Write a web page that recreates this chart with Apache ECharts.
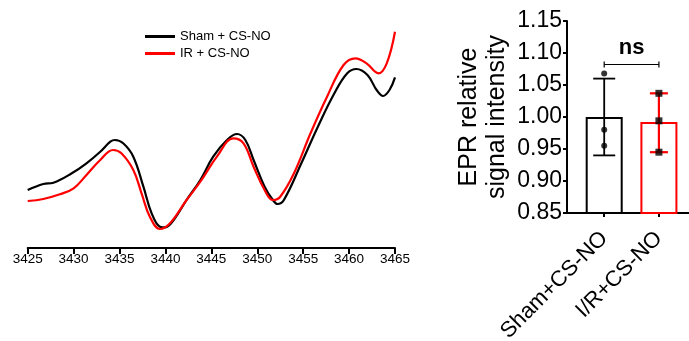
<!DOCTYPE html>
<html>
<head>
<meta charset="utf-8">
<script src="https://cdn.jsdelivr.net/npm/echarts@6/dist/echarts.min.js"></script>
<style>
  html, body { margin: 0; padding: 0; background: #fff; }
  #chart { width: 689px; height: 341px; }
</style>
</head>
<body>
<div id="chart"></div>
<script>
// EPR spectra (field in G, signal in arbitrary units)
const shamField = [3425, 3426.7, 3427.8, 3429.8, 3431.4, 3432.9, 3434.0, 3434.5, 3435.4, 3436.5, 3437.6, 3438.5, 3439.4, 3440.0, 3440.9, 3442.3, 3443.8, 3445.2, 3446.7, 3447.8, 3448.7, 3449.6, 3450.8, 3451.7, 3452.2, 3452.9, 3454.8, 3456.6, 3458.4, 3459.8, 3460.8, 3462.0, 3463.0, 3463.7, 3464.4, 3465];
const shamSignal = [58, 64, 65.3, 74.7, 84.7, 96.3, 106.3, 108, 104.7, 91.3, 61.3, 34.7, 21.3, 20.7, 28, 48, 68, 91.3, 108, 114, 108, 88, 61.3, 48, 44, 48, 84.7, 121.3, 154.7, 174.7, 179, 173, 158, 152, 158, 170.7];
const irField = [3425, 3426.7, 3428.5, 3430.0, 3431.4, 3432.9, 3434.3, 3435.2, 3436.5, 3437.4, 3438.3, 3439.4, 3440.5, 3442.3, 3443.8, 3445.6, 3447.4, 3448.5, 3449.6, 3450.8, 3451.7, 3452.5, 3454.0, 3455.8, 3457.6, 3459.4, 3460.7, 3461.9, 3463.2, 3464.1, 3465];
const irSignal = [47, 49, 53.7, 59.7, 73, 88, 98, 94.7, 78, 54.7, 31.3, 19, 24.7, 48, 66.3, 91.3, 109.7, 104.7, 81.3, 58, 48, 51.3, 74.7, 114.7, 151.3, 183, 189.7, 184.7, 174.7, 184.7, 216.3];

// relative intensity bar chart
const groups = ['Sham+CS-NO', 'I/R+CS-NO'];
const means = [1.000, 0.992];
const errLow = [0.940, 0.945];
const errHigh = [1.060, 1.037];
const shamPoints = [1.068, 0.980, 0.955];
const irPoints = [1.037, 0.994, 0.945];
const sigLabel = 'ns';
const sigLevel = 1.082;

const FONT = 'Liberation Sans, Arial, sans-serif';
const groupColors = ['#000000', '#ff0000'];

const zip = (xs, ys) => xs.map((x, i) => [x, ys[i]]);

const chart = echarts.init(document.getElementById('chart'), null, { renderer: 'canvas' });

chart.setOption({
  backgroundColor: '#ffffff',
  animation: false,
  textStyle: { fontFamily: FONT, color: '#000' },
  legend: {
    left: 140, top: 25, orient: 'vertical',
    itemWidth: 30, itemHeight: 3, itemGap: 4,
    icon: 'rect',
    textStyle: { fontSize: 13, color: '#000', fontFamily: FONT },
    data: ['Sham + CS-NO', 'IR + CS-NO']
  },
  grid: [
    { left: 27.7, right: 294, top: 20, bottom: 93, outerBoundsMode: 'none' },
    { left: 567, right: 0, top: 21, bottom: 128, outerBoundsMode: 'none' }
  ],
  xAxis: [
    {
      gridIndex: 0, type: 'value', min: 3425, max: 3465, interval: 5,
      axisLine: { onZero: false, lineStyle: { color: '#000', width: 2 } },
      axisTick: { length: 6, lineStyle: { color: '#000', width: 2 } },
      axisLabel: { fontSize: 13.5, color: '#000', fontFamily: FONT, margin: 4, formatter: v => String(v) },
      splitLine: { show: false }
    },
    {
      gridIndex: 1, type: 'value', min: -0.68, max: 1.55,
      axisLine: { onZero: false, lineStyle: { color: '#000', width: 2 } },
      axisTick: { length: 4, customValues: [0, 1], lineStyle: { color: '#000', width: 2 } },
      axisLabel: {
        customValues: [0, 1], rotate: 45, fontSize: 22, color: '#000', fontFamily: FONT, margin: 22,
        formatter: v => groups[Math.round(v)]
      },
      splitLine: { show: false }
    }
  ],
  yAxis: [
    { gridIndex: 0, type: 'value', min: 0, max: 228, show: false },
    {
      gridIndex: 1, type: 'value', min: 0.85, max: 1.15, interval: 0.05,
      name: 'EPR relative\nsignal intensity',
      nameLocation: 'middle', nameGap: 56,
      nameTextStyle: { fontSize: 25, color: '#000', fontFamily: FONT, lineHeight: 28 },
      axisLine: { show: true, onZero: false, lineStyle: { color: '#000', width: 2 } },
      axisTick: { show: true, length: 4, lineStyle: { color: '#000', width: 2 } },
      axisLabel: { fontSize: 23, color: '#000', fontFamily: FONT, margin: 5, formatter: v => v.toFixed(2) },
      splitLine: { show: false }
    }
  ],
  series: [
    {
      name: 'Sham + CS-NO', type: 'line', xAxisIndex: 0, yAxisIndex: 0,
      data: zip(shamField, shamSignal), smooth: 0.4, showSymbol: false,
      lineStyle: { color: '#000', width: 2.2 }, itemStyle: { color: '#000' }, z: 3
    },
    {
      name: 'IR + CS-NO', type: 'line', xAxisIndex: 0, yAxisIndex: 0,
      data: zip(irField, irSignal), smooth: 0.4, showSymbol: false,
      lineStyle: { color: '#ff0000', width: 2.2 }, itemStyle: { color: '#ff0000' }, z: 4
    },
    {
      type: 'bar', xAxisIndex: 1, yAxisIndex: 1, barWidth: 37,
      data: means.map((m, i) => ({
        value: [i, m],
        itemStyle: { color: '#fff', borderColor: groupColors[i], borderWidth: 2 }
      })),
      z: 2
    },
    {
      type: 'custom', xAxisIndex: 1, yAxisIndex: 1, z: 5,
      data: groups.map((g, i) => [i, errLow[i], errHigh[i]]),
      renderItem: (params, api) => {
        const i = api.value(0);
        const lo = api.coord([i, api.value(1)]);
        const hi = api.coord([i, api.value(2)]);
        const color = groupColors[i];
        const w = i === 0 ? 1.8 : 2.2;
        const half = i === 0 ? 11 : 9;
        const style = { stroke: color, lineWidth: w };
        return {
          type: 'group',
          children: [
            { type: 'line', shape: { x1: lo[0], y1: lo[1], x2: hi[0], y2: hi[1] }, style },
            { type: 'line', shape: { x1: hi[0] - half, y1: hi[1], x2: hi[0] + half, y2: hi[1] }, style },
            { type: 'line', shape: { x1: lo[0] - half, y1: lo[1], x2: lo[0] + half, y2: lo[1] }, style }
          ]
        };
      }
    },
    {
      type: 'scatter', xAxisIndex: 1, yAxisIndex: 1, z: 6,
      symbol: 'circle', symbolSize: 6, itemStyle: { color: '#000' },
      data: shamPoints.map(v => [0, v])
    },
    {
      type: 'scatter', xAxisIndex: 1, yAxisIndex: 1, z: 6,
      symbol: 'rect', symbolSize: 7, itemStyle: { color: '#000' },
      data: irPoints.map(v => [1, v])
    },
    {
      type: 'custom', xAxisIndex: 1, yAxisIndex: 1, z: 5,
      data: [[0, 1, sigLevel]],
      renderItem: (params, api) => {
        const a = api.coord([api.value(0), api.value(2)]);
        const b = api.coord([api.value(1), api.value(2)]);
        const style = { stroke: '#000', lineWidth: 1.2 };
        return {
          type: 'group',
          children: [
            { type: 'line', shape: { x1: a[0], y1: a[1], x2: b[0], y2: b[1] }, style },
            { type: 'line', shape: { x1: a[0], y1: a[1] - 3, x2: a[0], y2: a[1] + 3 }, style },
            { type: 'line', shape: { x1: b[0], y1: b[1] - 3, x2: b[0], y2: b[1] + 3 }, style },
            {
              type: 'text',
              style: {
                text: sigLabel, x: (a[0] + b[0]) / 2, y: a[1] - 6,
                align: 'center', verticalAlign: 'bottom',
                font: 'bold 22px ' + FONT, fill: '#000'
              }
            }
          ]
        };
      }
    }
  ]
});
</script>
</body>
</html>
